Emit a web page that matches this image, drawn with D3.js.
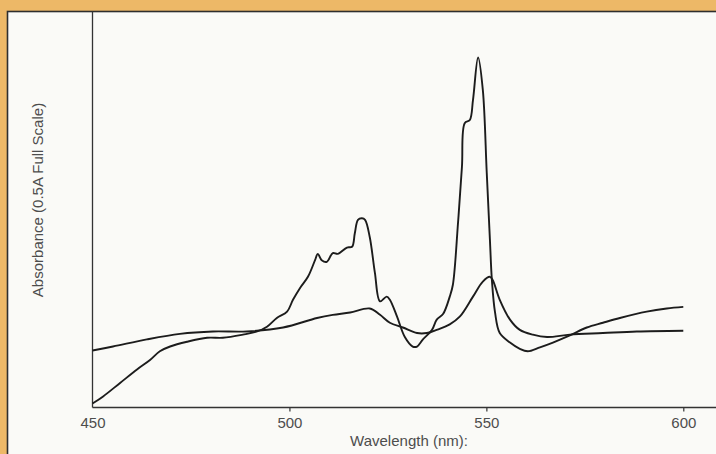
<!DOCTYPE html>
<html>
<head>
<meta charset="utf-8">
<script src="https://cdn.jsdelivr.net/npm/d3@7"></script>
<style>
  html, body { margin: 0; padding: 0; background: #edb867; }
  svg { display: block; }
  .tick-label { font-family: "Liberation Sans", Arial, sans-serif; font-size: 15px; fill: #4d4d4d; }
  .axis-title { font-family: "Liberation Sans", Arial, sans-serif; font-size: 15px; fill: #4d4d4d; }
</style>
</head>
<body>
<svg id="chart" width="716" height="454"></svg>
<script>
  // Sharp spectrum (nm, absorbance)
  const sharpNm = [450, 452.7, 457.0, 461.3, 464.6, 467.1, 469.7, 474.0, 479.1, 483.1, 488.2, 491.8,
    494.3, 496.8, 499.4, 500.9, 502.7, 504.7, 506.5, 507.2, 508.2, 509.5, 511.0, 512.3, 514.6, 515.9,
    516.6, 517.4, 518.4, 519.2, 520.4, 521.7, 523.0, 524.7, 525.5, 527.3, 529.3, 531.3, 532.4, 533.9,
    536.2, 537.4, 539.0, 540.7, 541.5, 542.8, 543.8, 544.5, 545.8, 546.6, 547.9, 549.1, 550.1,
    550.9, 551.4, 552.2, 553.4, 556.0, 558.5, 560.5, 563.6, 566.9, 571.2, 575.5, 579.6, 583.9, 590.7,
    595.8, 600];
  const sharpAbs = [0.005, 0.014, 0.031, 0.048, 0.060, 0.071, 0.077, 0.083, 0.088, 0.088, 0.092, 0.096,
    0.102, 0.113, 0.121, 0.136, 0.151, 0.165, 0.186, 0.194, 0.186, 0.184, 0.195, 0.194, 0.202, 0.203,
    0.220, 0.237, 0.239, 0.237, 0.215, 0.170, 0.134, 0.140, 0.136, 0.115, 0.089, 0.077, 0.077, 0.086,
    0.098, 0.111, 0.118, 0.140, 0.155, 0.233, 0.304, 0.359, 0.363, 0.388, 0.442, 0.401, 0.296,
    0.212, 0.161, 0.120, 0.094, 0.082, 0.074, 0.071, 0.076, 0.082, 0.091, 0.101, 0.107, 0.113, 0.121,
    0.125, 0.127];

  // Broad spectrum (nm, absorbance)
  const broadNm = [450, 455.2, 463.8, 472.2, 480.6, 489.2, 498.4, 507.0, 511.0, 515.4, 520.4, 523.0,
    525.5, 528.8, 532.4, 534.9, 537.4, 540.7, 543.3, 546.6, 549.1, 550.9, 551.6, 553.4, 556.0, 558.5,
    561.8, 565.4, 571.2, 579.6, 588.2, 600];
  const broadAbs = [0.072, 0.077, 0.086, 0.093, 0.096, 0.096, 0.101, 0.113, 0.117, 0.120, 0.125, 0.117,
    0.107, 0.101, 0.094, 0.094, 0.098, 0.105, 0.115, 0.140, 0.159, 0.165, 0.161, 0.136, 0.111, 0.098,
    0.092, 0.089, 0.092, 0.094, 0.096, 0.097];

  const xTicks = [450, 500, 550, 600];

  const W = 716, H = 454;
  const svg = d3.select('#chart');

  // orange page + white card
  svg.append('rect').attr('width', W).attr('height', H).attr('fill', '#edb867');
  svg.append('rect')
    .attr('x', 7.5).attr('y', 11.5)
    .attr('width', W + 10).attr('height', H + 10)
    .attr('fill', '#fafaf7')
    .attr('stroke', '#2e2e2e').attr('stroke-width', 1.6);

  const x = d3.scaleLinear().domain([450, 600]).range([92.5, 683.3]);
  const y = d3.scaleLinear().domain([0, 0.5]).range([407.5, 11.5]);

  // axes
  const xAxis = svg.append('g')
    .attr('transform', `translate(0,${y(0)})`)
    .call(d3.axisBottom(x).tickValues(xTicks).tickSize(4).tickSizeOuter(0).tickFormat(d3.format('d')));
  xAxis.select('.domain').remove();
  xAxis.selectAll('.tick line').attr('stroke', '#333').attr('stroke-width', 1.2)
    .filter(d => d === 450).remove();
  xAxis.selectAll('.tick text')
    .attr('class', 'tick-label')
    .attr('y', 10)
    .attr('dy', '0.71em');
  xAxis.attr('font-family', null).attr('font-size', null);

  svg.append('line')
    .attr('x1', x(450)).attr('x2', W)
    .attr('y1', y(0)).attr('y2', y(0))
    .attr('stroke', '#333').attr('stroke-width', 1.3);
  svg.append('line')
    .attr('x1', x(450)).attr('x2', x(450))
    .attr('y1', y(0.5)).attr('y2', y(0))
    .attr('stroke', '#333').attr('stroke-width', 1.3);

  // titles
  svg.append('text').attr('class', 'axis-title')
    .attr('x', 409).attr('y', 446)
    .attr('text-anchor', 'middle')
    .text('Wavelength (nm):');
  svg.append('text').attr('class', 'axis-title')
    .attr('transform', 'translate(43,200) rotate(-90)')
    .attr('text-anchor', 'middle')
    .text('Absorbance (0.5A Full Scale)');

  // spectra
  const line = d3.line()
    .x(d => x(d[0]))
    .y(d => y(d[1]))
    .curve(d3.curveCatmullRom.alpha(0.5));

  const series = [
    d3.zip(broadNm, broadAbs),
    d3.zip(sharpNm, sharpAbs)
  ];

  svg.append('g').selectAll('path').data(series).join('path')
    .attr('d', line)
    .attr('fill', 'none')
    .attr('stroke', '#1c1c1c')
    .attr('stroke-width', 1.9)
    .attr('stroke-linejoin', 'round');
</script>
</body>
</html>
